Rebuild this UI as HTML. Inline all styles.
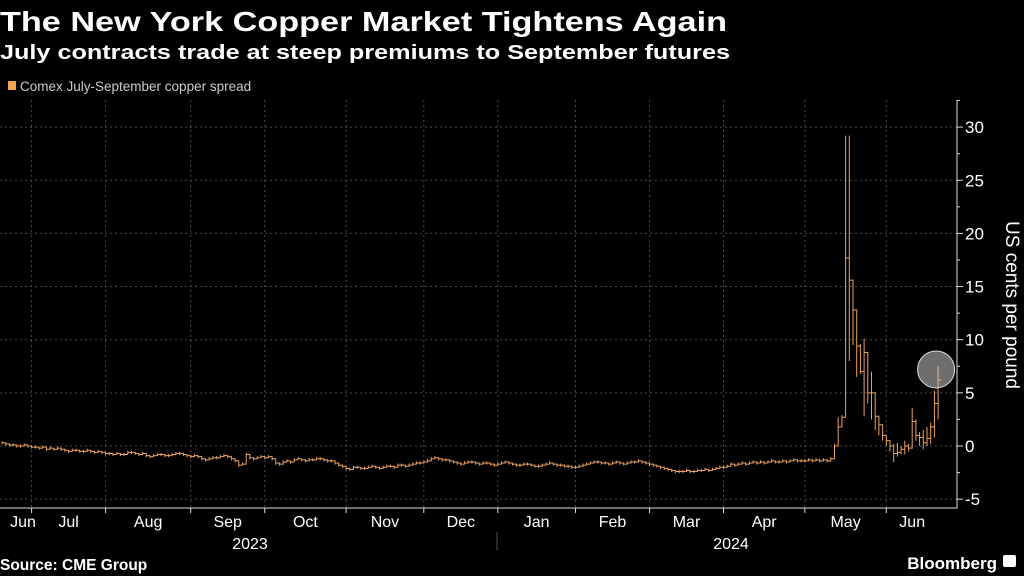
<!DOCTYPE html>
<html><head><meta charset="utf-8"><style>
html,body{margin:0;padding:0;background:#000;width:1024px;height:576px;overflow:hidden}
svg{display:block;font-family:"Liberation Sans",sans-serif}
</style></head><body>
<svg id="c" width="1024" height="576" viewBox="0 0 1024 576">
<text x="0" y="31" fill="#fff" font-size="28" font-weight="bold" textLength="727" lengthAdjust="spacingAndGlyphs">The New York Copper Market Tightens Again</text>
<text x="0" y="59" fill="#fff" font-size="20" font-weight="bold" textLength="730" lengthAdjust="spacingAndGlyphs">July contracts trade at steep premiums to September futures</text>
<g>
<rect x="8" y="81" width="8" height="9" fill="#f5a34f"/>
<text x="20" y="91" fill="#ccc" font-size="13.5">Comex July-September copper spread</text>
</g>
<g id="grid"></g>
<g id="marks"></g>
<g id="axes"></g>
<text transform="translate(1006,305) rotate(90)" fill="#fff" font-size="19" text-anchor="middle">US cents per pound</text>
<text x="0" y="570" fill="#fff" font-size="15.5" font-weight="bold">Source: CME Group</text>
<text x="997" y="569" fill="#fff" font-size="17" font-weight="bold" text-anchor="end">Bloomberg</text>
<rect x="1003" y="555" width="13" height="12" rx="2" fill="#fff"/>
</svg>
<script>
const months=["Jun","Jul","Aug","Sep","Oct","Nov","Dec","Jan","Feb","Mar","Apr","May","Jun"];
const monthStart=[-8,8,28,51,71,93,114,134,155,175,195,217,239];
const yTicks=[-5,0,5,10,15,20,25,30];
const closes=[0.3,0.2,0.1,0.1,0,0,0.1,0,
-0.1,-0.1,-0.2,-0.1,-0.3,-0.2,-0.3,-0.2,-0.3,-0.4,-0.5,-0.4,-0.4,-0.5,-0.5,-0.4,-0.5,-0.6,-0.5,-0.6,
-0.7,-0.7,-0.8,-0.7,-0.8,-0.8,-0.6,-0.6,-0.7,-0.8,-0.7,-0.9,-1.0,-0.9,-0.8,-0.8,-0.9,-0.9,-0.8,-0.7,-0.7,-0.8,-0.9,
-1.0,-0.9,-1.0,-1.2,-1.3,-1.2,-1.1,-1.1,-1.0,-0.9,-1.0,-1.2,-1.4,-1.8,-1.7,-0.8,-1.1,-1.2,-1.1,-1.0,
-1.1,-1.0,-1.2,-1.6,-1.7,-1.5,-1.4,-1.5,-1.3,-1.2,-1.3,-1.4,-1.3,-1.3,-1.2,-1.2,-1.3,-1.4,-1.4,-1.6,-1.8,-1.9,
-2.1,-2.2,-2.0,-2.0,-2.1,-2.1,-2.0,-1.9,-2.0,-2.1,-2.0,-1.9,-1.9,-2.0,-1.8,-1.8,-1.9,-1.8,-1.7,-1.6,-1.6,
-1.5,-1.4,-1.2,-1.1,-1.2,-1.3,-1.3,-1.4,-1.5,-1.6,-1.7,-1.6,-1.5,-1.5,-1.6,-1.7,-1.6,-1.6,-1.7,-1.8,
-1.7,-1.6,-1.5,-1.6,-1.7,-1.8,-1.8,-1.7,-1.7,-1.8,-1.9,-1.9,-1.8,-1.7,-1.6,-1.7,-1.8,-1.8,-1.9,-1.9,-2.0,
-2.0,-1.9,-1.8,-1.7,-1.6,-1.5,-1.5,-1.6,-1.6,-1.7,-1.6,-1.5,-1.6,-1.7,-1.6,-1.5,-1.5,-1.4,-1.5,-1.6,
-1.7,-1.8,-1.9,-2.0,-2.1,-2.2,-2.3,-2.4,-2.4,-2.4,-2.3,-2.4,-2.4,-2.3,-2.3,-2.2,-2.3,-2.2,-2.1,-2.0,
-2.0,-1.9,-1.7,-1.8,-1.7,-1.6,-1.7,-1.6,-1.5,-1.6,-1.5,-1.6,-1.5,-1.4,-1.5,-1.5,-1.4,-1.5,-1.4,-1.3,-1.4,-1.4,
-1.4,-1.3,-1.4,-1.3,-1.4,-1.3,-1.4,-1.2,
0,1.8,2.7,17.7,15.6,12.8,9.4,7,8.8,5,5,2.8,2.0,1.0,0.5,0,-0.7,-0.6,-0.3,0,-0.2,2.3,1.0,0.8,0.3,0.7,1.8,4.0,6.2];
const spikeStart=225;
const spikeLow=[-0.5,1.5,2.5,15.5,8,9.5,6.5,6.8,2.8,4,2.5,1.5,1,0.5,0,-0.5,-1.5,-1.0,-0.8,-0.8,-0.5,0,0.5,0,-0.3,0,0.2,0.8,2.5];
const spikeHigh=[0.2,2.7,2.9,29.2,29.2,15.5,11.2,9.6,10.1,6.5,7,3,2.5,1.5,1,0.5,0.2,0.3,0,0.5,0.2,3.6,2.5,1.3,1.5,1.8,2.2,5.2,7.5];

const NS="http://www.w3.org/2000/svg";
const X0=957,YTOP=100,YBOT=508;
const xS=i=>2+i*3.7;
const yS=v=>446-v*10.63;
function mk(tag,attrs,parent){const e=document.createElementNS(NS,tag);for(const k in attrs)e.setAttribute(k,attrs[k]);document.getElementById(parent).appendChild(e);return e;}
yTicks.forEach(v=>{
 const l=mk('line',{x1:0,x2:X0,y1:yS(v),y2:yS(v),stroke:'#4a4a4a','stroke-dasharray':'2,3','stroke-width':1},'grid');
 
 
 const t=mk('line',{x1:X0,x2:X0+6,y1:yS(v),y2:yS(v),stroke:'#ddd'},'axes');
 
 
 const tx=mk('text',{x:X0+8,y:yS(v)+6,fill:'#fff','font-size':17},'axes');
 tx.textContent=v;
 
 
 const m=mk('line',{x1:X0,x2:X0+3,y1:yS(v+2.5),y2:yS(v+2.5),stroke:'#ddd'},'axes');
 
 
});
monthStart.forEach((s,k)=>{
 if(s>0){
  const l=mk('line',{x1:xS(s),x2:xS(s),y1:YTOP,y2:YBOT,stroke:'#4a4a4a','stroke-dasharray':'2,3'},'grid');
  
  
  const t=mk('line',{x1:xS(s),x2:xS(s),y1:YBOT,y2:YBOT+5,stroke:'#ddd'},'axes');
  
  
 }
 const end=k<monthStart.length-1?monthStart[k+1]:253;
 const mid=(xS(s)+xS(end))/2;
 const tx=mk('text',{x:k===0?23:mid,y:527,fill:'#fff','font-size':16,'text-anchor':'middle'},'axes');
 tx.textContent=months[k];
 
 
});
[["2023",250],["2024",731]].forEach(([y,x])=>{
 const t=mk('text',{x:x,y:549,fill:'#fff','font-size':16,'text-anchor':'middle'},'axes');
 t.textContent=y;
 
 
});
const sep=mk('line',{x1:497,x2:497,y1:532,y2:550,stroke:'#555'},'axes');


const ax=mk('path',{d:`M0 ${YBOT}H${X0}V${YTOP}`,stroke:'#ddd',fill:'none'},'axes');


let d='';
closes.forEach((v,i)=>{
 let lo=v-0.15,hi=v+0.15;
 const j=i-spikeStart;
 if(j>=0&&j<spikeLow.length){lo=spikeLow[j];hi=spikeHigh[j];}
 const x=xS(i);
 d+=`M${x} ${yS(hi)}V${yS(lo)}M${x} ${yS(v)}H${x+3.7}`;
 if(i<closes.length-1) d+=`V${yS(closes[i+1])}`;
});
const p=mk('path',{d:d,stroke:'#eaa262',fill:'none','stroke-width':1},'marks');


const last=closes.length-1;
const c=mk('circle',{cx:xS(last)-2,cy:yS(7.2),r:18.5,fill:'rgba(200,200,200,0.55)',stroke:'#ddd','stroke-width':1},'marks');


</script>
</body></html>
